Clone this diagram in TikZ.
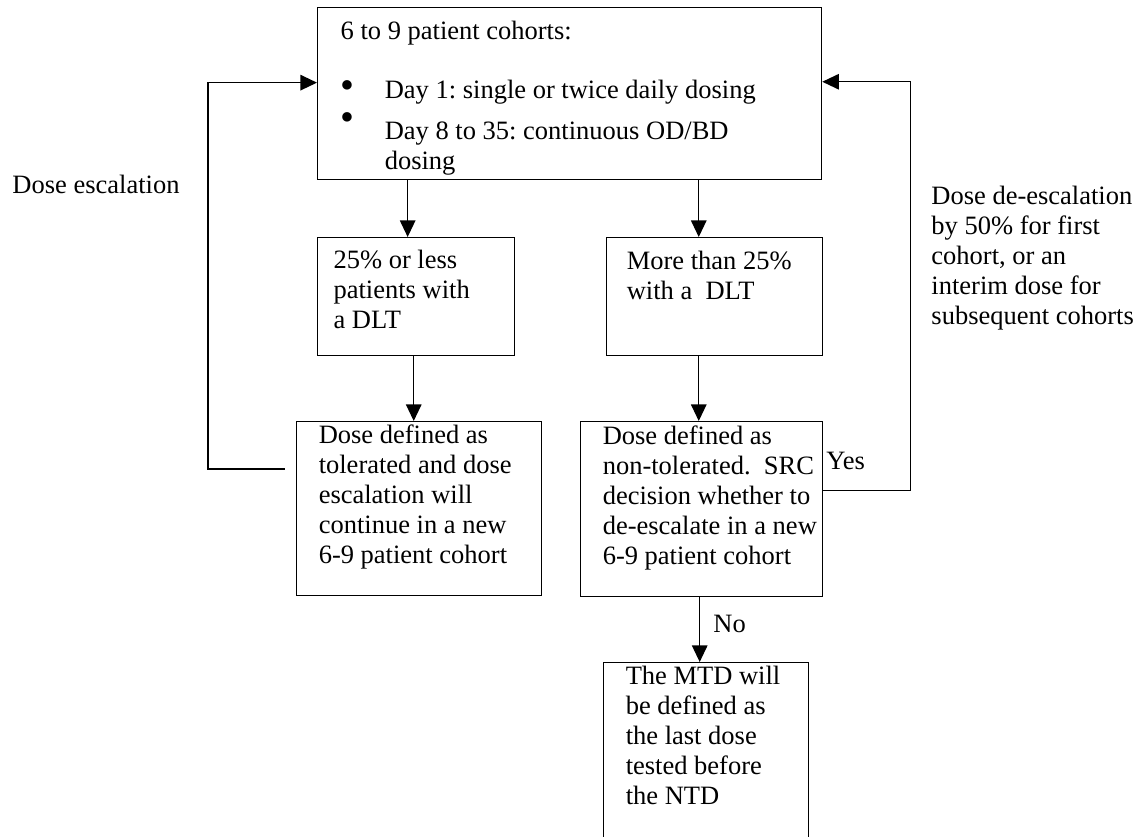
\documentclass[tikz,border=0pt]{standalone}
\usepackage{fontspec}
\setmainfont{Liberation Serif}
\usetikzlibrary{arrows.meta}
\frenchspacing

\newcommand{\boxtext}[1]{\spaceskip=0pt\xspaceskip=0pt\begin{tabular}[t]{@{}l@{}}#1\end{tabular}}
\newcommand{\blt}[1]{\makebox[20pt][l]{\raisebox{#1}[0pt][0pt]{\scalebox{1.5}{\textbullet}}}}

\tikzset{
  stepbox/.style={draw, line width=0.6pt, anchor=north west, inner ysep=0pt},
  note/.style={inner sep=0pt},
  arr/.style={-{Triangle[length=7.5pt,width=7pt]}, line width=0.6pt}
}

\begin{document}
\begin{tikzpicture}[x=0.4528pt, y=-0.4528pt, font=\fontsize{12}{13.6}\selectfont]
\useasboundingbox (0,0) rectangle (1143,836);

% boxes
\node[stepbox, text width=207.4pt, inner xsep=10.4pt, minimum height=77.9pt] (cohort) at (317,7)
  {\boxtext{\rule{0pt}{14pt}6 to 9 patient cohorts:\\[13.2pt]
  \blt{0pt}Day 1: single or twice daily dosing\\[4.9pt]
  \blt{4pt}Day 8 to 35: continuous OD/BD\\
  \hspace*{20pt}dosing}};
\node[stepbox, text width=74.8pt, inner xsep=7.2pt, minimum height=53.4pt] (low) at (317,237)
  {\boxtext{25\% or less\\ patients with\\ a DLT\\[3.6pt]}};
\node[stepbox, text width=79.6pt, inner xsep=9.1pt, minimum height=53.4pt] (high) at (606,237)
  {\boxtext{More than 25\%\\ with a~~DLT\\[16.3pt]}};
\node[stepbox, text width=90.9pt, inner xsep=10pt, minimum height=78.8pt] (tol) at (296,421)
  {\boxtext{Dose defined as\\ tolerated and dose\\ escalation will\\ continue in a new\\ 6-9 patient cohort\\[10pt]}};
\node[stepbox, text width=89.6pt, inner xsep=10pt, minimum height=79.2pt] (nontol) at (580,421)
  {\boxtext{Dose defined as\\ non-tolerated.~~SRC\\ decision whether to\\ de-escalate in a new\\ 6-9 patient cohort\\[10pt]}};
\node[stepbox, text width=72.8pt, inner xsep=10pt, minimum height=82.9pt] (mtd) at (603,662)
  {\boxtext{The MTD will\\ be defined as\\ the last dose\\ tested before\\ the NTD\\[14.5pt]}};

% side texts
\node[note, anchor=base west] (esc) at (12,193) {Dose escalation};
\node[note, anchor=base west] (desc) at (931,204)
  {\boxtext{Dose de-escalation\\ by 50\% for first\\ cohort, or an\\ interim dose for\\ subsequent cohorts}};
\node[note, anchor=base west] (yes) at (826,469) {Yes};
\node[note, anchor=base west] (no) at (713,632) {No};

% arrows
\draw[arr] ([xshift=-3.85pt]low.north |- cohort.south) -- ([xshift=-3.85pt]low.north);
\draw[arr] ([xshift=-7.2pt]high.north |- cohort.south) -- ([xshift=-7.2pt]high.north);
\draw[arr] ([xshift=-1.1pt]low.south) -- ([xshift=-1.1pt]low.south |- tol.north);
\draw[arr] ([xshift=-7.2pt]high.south) -- ([xshift=-7.2pt]high.south |- nontol.north);
\draw[arr] ([xshift=-0.9pt]nontol.south) -- ([xshift=-0.9pt]nontol.south |- mtd.north);

\draw[arr] ([xshift=-5pt,yshift=18pt]tol.west) -- ++(-77,0) |- ([yshift=5pt]cohort.west);
\draw[arr] ([yshift=8.4pt]nontol.east) -- ++(87,0) |- ([yshift=5.4pt]cohort.east);

\end{tikzpicture}
\end{document}
